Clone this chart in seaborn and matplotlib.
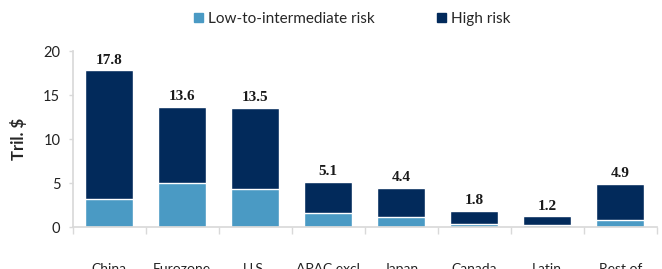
import numpy as np
import pandas as pd
import matplotlib
matplotlib.use('Agg')
import matplotlib.pyplot as plt
import seaborn as sns
from matplotlib.patches import Patch

regions = ['China', 'Eurozone', 'U.S.', 'APAC excl\nJapan', 'Japan', 'Canada', 'Latin\nAmerica', 'Rest of\nworld']
total = [17.8, 13.6, 13.5, 5.1, 4.4, 1.8, 1.2, 4.9]
low_risk = [3.2, 5.0, 4.3, 1.6, 1.1, 0.35, 0.25, 0.8]
yticks = [0, 5, 10, 15, 20]

light = '#4A9AC4'
dark = '#022A5B'
grey = '#D9D9D9'

df = pd.DataFrame({'Region': regions, 'Total': total, 'Low': low_risk})

sns.set_theme(style='white')
plt.rcParams['font.family'] = ['Lato', 'DejaVu Sans']

fig = plt.figure(figsize=(6.62, 2.69), dpi=100)
ax = fig.add_axes([0.110, 0.156, 0.882, 0.654])

# stacked: draw totals (high risk on top) then the low-risk part over them
sns.barplot(data=df, x='Region', y='Total', color=dark, width=0.66, saturation=1, ax=ax)
sns.barplot(data=df, x='Region', y='Low', color=light, width=0.66, saturation=1, ax=ax)

for i, v in enumerate(total):
    ax.text(i, v + 0.45, f'{v:.1f}', ha='center', va='bottom', fontsize=11,
            fontweight='bold', family='Liberation Serif', color='#1a1a1a')

ax.set_ylim(0, 20)
ax.set_yticks(yticks)
ax.set_xlim(-0.5, len(regions) - 0.5)
ax.set_xticks(np.arange(-0.5, len(regions), 1), minor=True)
ax.tick_params(axis='x', which='major', length=0, pad=26, labelsize=10, colors='#222222')
ax.tick_params(axis='x', which='minor', length=5, color=grey, width=1, direction='out', bottom=True)
ax.tick_params(axis='y', length=3, color=grey, width=1, left=True, labelsize=10.5,
               colors='#222222', pad=6)

for s in ['top', 'right']:
    ax.spines[s].set_visible(False)
ax.spines['left'].set_color(grey)
ax.spines['bottom'].set_color(grey)

ax.set_xlabel('')
ax.set_ylabel('Tril. $', fontsize=12, fontweight='bold', labelpad=12)

handles = [Patch(color=light, label='Low-to-intermediate risk'),
           Patch(color=dark, label='High risk')]
fig.legend(handles=handles, loc='center', bbox_to_anchor=(0.532, 0.93), ncol=2,
           frameon=False, fontsize=11, handlelength=0.6, handleheight=0.6,
           handletextpad=0.3, columnspacing=4.1)

fig.savefig('out.png', dpi=100)
